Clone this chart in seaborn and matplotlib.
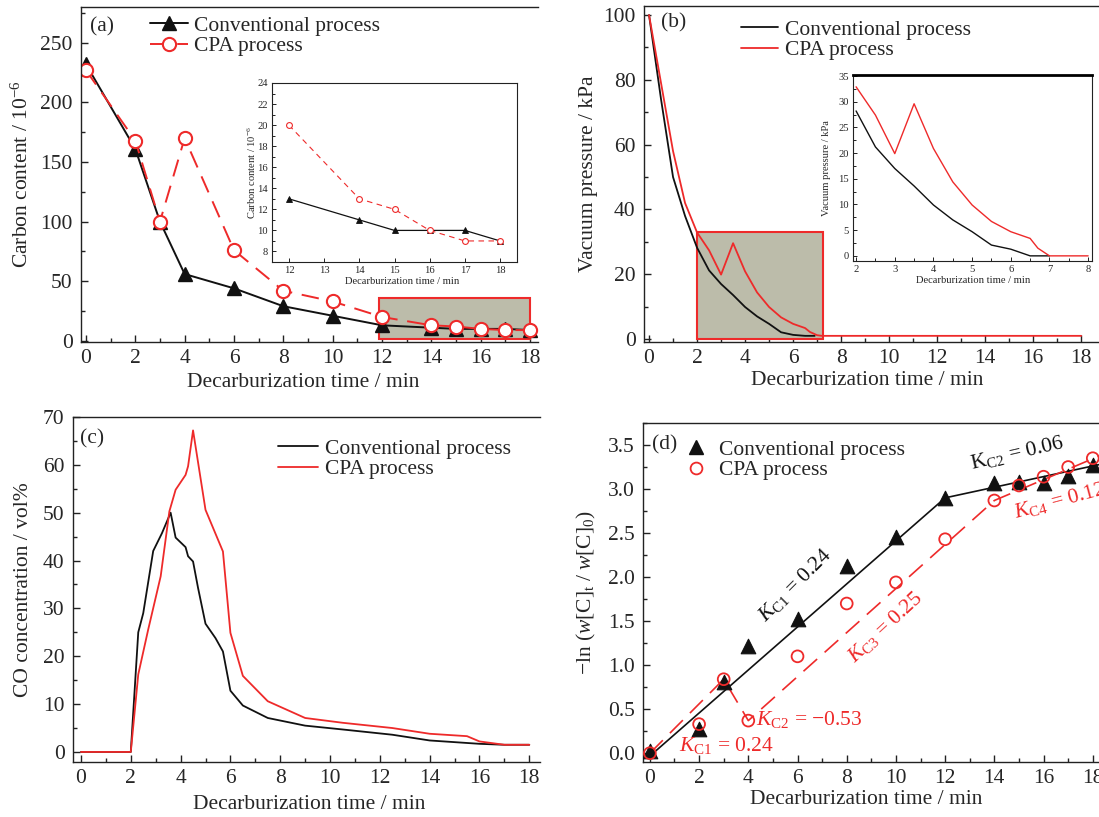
import matplotlib
matplotlib.use("Agg")
import matplotlib.pyplot as plt
import seaborn as sns
from matplotlib.patches import Rectangle
from matplotlib.lines import Line2D
from matplotlib.ticker import MultipleLocator

# ---------------- data ----------------
legend_labels = ["Conventional process", "CPA process"]

# (a) carbon content / 10^-6
time_a = [0, 2, 3, 4, 6, 8, 10, 12, 14, 15, 16, 17, 18]
carbon_conv = [232, 161, 100, 56, 44, 29, 21, 13, 11, 10, 10, 10, 9]
carbon_cpa = [227, 168, 100, 170, 76, 42, 33, 20, 13, 12, 10, 9, 9]
time_a_inset = [12, 14, 15, 16, 17, 18]
carbon_conv_inset = [13, 11, 10, 10, 10, 9]
carbon_cpa_inset = [20, 13, 12, 10, 9, 9]

# (b) vacuum pressure / kPa
time_b_conv = [0, 0.5, 1, 1.5, 2, 2.5, 3, 3.5, 4, 4.5, 5, 5.5, 6, 6.5, 6.9]
press_conv = [100, 74, 50, 38, 28.2, 21.2, 17.0, 13.6, 9.9, 7.0, 4.7, 2.1, 1.3, 1.0, 1.0]
time_b_cpa = [0, 0.5, 1, 1.5, 2, 2.5, 3, 3.5, 4, 4.5, 5, 5.5, 6, 6.5, 6.7, 7.0, 7.2, 18]
press_cpa = [100, 79, 58, 42, 32.9, 27.4, 19.9, 29.6, 20.9, 14.4, 9.9, 6.7, 4.7, 3.4, 2.2, 1.2, 1.0, 1.0]
time_b_conv_inset = [2, 2.5, 3, 3.5, 4, 4.5, 5, 5.5, 6, 6.5, 7]
press_conv_inset = [28.2, 21.2, 17.0, 13.6, 9.9, 7.0, 4.7, 2.1, 1.3, 0.0, 0.0]
time_b_cpa_inset = [2, 2.5, 3, 3.5, 4, 4.5, 5, 5.5, 6, 6.5, 6.7, 7, 8]
press_cpa_inset = [32.9, 27.4, 19.9, 29.6, 20.9, 14.4, 9.9, 6.7, 4.7, 3.4, 1.5, 0.0, 0.0]

# (c) CO concentration / vol%
time_c_conv = [0, 2, 2.3, 2.5, 2.9, 3.25, 3.6, 3.8, 4.2, 4.3, 4.5, 4.7, 5.0, 5.4, 5.7,
               6.0, 6.5, 7.5, 9.0, 10.5, 12.5, 14.0, 16.0, 17.0, 18.0]
co_conv = [0, 0, 25, 29, 42, 45.7, 50, 44.8, 42.8, 40.9, 39.8, 34.3, 26.8, 23.8, 21.0,
           12.8, 9.7, 7.1, 5.5, 4.7, 3.6, 2.4, 1.7, 1.5, 1.5]
time_c_cpa = [0, 2, 2.3, 2.7, 3.2, 3.55, 3.8, 4.2, 4.3, 4.5, 5.0, 5.7, 6.0, 6.5, 7.5,
              9.0, 10.5, 12.5, 14.0, 15.5, 16.0, 17.0, 18.0]
co_cpa = [0, 0, 16.2, 25.6, 36.7, 50.3, 54.8, 57.9, 59.7, 67.2, 50.6, 41.9, 24.9, 15.9, 10.6,
          7.1, 6.1, 5.0, 3.8, 3.3, 2.2, 1.5, 1.5]

# (d) -ln(w[C]t / w[C]0)
time_d = [0, 2, 3, 4, 6, 8, 10, 12, 14, 15, 16, 17, 18]
lnc_conv = [0.03, 0.28, 0.81, 1.22, 1.52, 2.13, 2.46, 2.90, 3.07, 3.08, 3.07, 3.15, 3.27]
lnc_cpa = [0.0, 0.33, 0.84, 0.37, 1.10, 1.70, 1.94, 2.43, 2.87, 3.04, 3.14, 3.25, 3.35]
fit_conv_t = [0.05, 12, 18.3]
fit_conv = [-0.02, 2.90, 3.28]
fit_cpa_t = [0, 3, 4, 14, 18.3]
fit_cpa = [0.0, 0.84, 0.37, 2.87, 3.38]

# ---------------- style ----------------
sns.set_theme(style="ticks")
plt.rcParams.update({
    "font.family": ["Liberation Serif", "DejaVu Serif"],
    "mathtext.fontset": "custom",
    "mathtext.rm": "Liberation Serif",
    "mathtext.it": "Liberation Serif:italic",
    "mathtext.bf": "Liberation Serif:bold",
    "axes.unicode_minus": True,
})
RED = "#ee2a2a"
BLACK = "#111111"
GRAY = "#bcbcaa"
FS = 15.5
FS_IN = 7.6

W, H = 1099, 817
fig = plt.figure(figsize=(W / 100, H / 100), dpi=100)


def rect(l, t, r, b):
    return [l / W, 1 - b / H, (r - l) / W, (b - t) / H]


def style(ax, fs, xmaj, xmin, ymaj, ymin, big=True):
    ax.xaxis.set_major_locator(MultipleLocator(xmaj))
    ax.xaxis.set_minor_locator(MultipleLocator(xmin))
    ax.yaxis.set_major_locator(MultipleLocator(ymaj))
    ax.yaxis.set_minor_locator(MultipleLocator(ymin))
    ax.tick_params(which="both", direction="in", top=False, right=False,
                   labelsize=fs, width=1.0 if big else 0.7, color="#222222")
    ax.tick_params(which="major", length=5 if big else 3)
    ax.tick_params(which="minor", length=3 if big else 2)
    ax.tick_params(axis="x", pad=5 if big else 3)
    ax.tick_params(axis="y", pad=6 if big else 3)
    for s in ax.spines.values():
        s.set_linewidth(1.0 if big else 0.8)
        s.set_color("#222222")


def line(ax, x, y, color, lw, dashes=None, **kw):
    sns.lineplot(x=x, y=y, ax=ax, color=color, linewidth=lw, estimator=None,
                 sort=False, legend=False, **kw)
    ln = ax.lines[-1]
    if dashes is not None:
        ln.set_dashes(dashes)
    return ln


ax_a = fig.add_axes(rect(81, 7, 538, 342))
ax_b = fig.add_axes(rect(644, 6, 1110, 342))
ax_c = fig.add_axes(rect(73, 417, 540, 762))
ax_d = fig.add_axes(rect(643, 423, 1110, 762))

# ---------------- (a) ----------------
ax_a.add_patch(Rectangle((11.88, 1.7), 18.0 - 11.88, 36 - 1.7, facecolor=GRAY,
                         edgecolor=RED, linewidth=1.5, zorder=1))
la1 = line(ax_a, time_a, carbon_conv, BLACK, 1.4, marker="^", markersize=10,
           markerfacecolor=BLACK, markeredgecolor=BLACK, markeredgewidth=1)
la2 = line(ax_a, time_a, carbon_cpa, RED, 1.4, dashes=(9, 5), marker="o", markersize=9.5,
           markerfacecolor="white", markeredgecolor=RED, markeredgewidth=1.5)
ax_a.set_xlim(-0.2, 18.32)
ax_a.set_ylim(-1, 280)
style(ax_a, FS, 2, 1, 50, 25)
ax_a.spines["right"].set_visible(False)
ax_a.set_xlabel("Decarburization time / min", fontsize=FS)
ax_a.set_ylabel("Carbon content / 10$^{-6}$", fontsize=FS)
ax_a.xaxis.set_label_coords(0.486, -0.092)
ax_a.yaxis.set_label_coords(-0.105, 0.5)
ax_a.legend([la1, la2], legend_labels, loc="center left",
            bbox_to_anchor=(150 / W, 1 - 36 / H), bbox_transform=fig.transFigure,
            frameon=False, fontsize=FS, borderpad=0, borderaxespad=0,
            handlelength=1.77, handletextpad=0.28, labelspacing=0.0)

ins_a = fig.add_axes(rect(272, 83, 517, 262))
line(ins_a, time_a_inset, carbon_conv_inset, BLACK, 0.9, marker="^", markersize=5,
     markerfacecolor=BLACK, markeredgecolor=BLACK, markeredgewidth=0.6)
line(ins_a, time_a_inset, carbon_cpa_inset, RED, 0.8, dashes=(5, 4), marker="o", markersize=4.2,
     markerfacecolor="white", markeredgecolor=RED, markeredgewidth=0.8)
ins_a.set_xlim(11.52, 18.48)
ins_a.set_ylim(7, 24)
style(ins_a, FS_IN, 1, 1, 2, 1, big=False)
ins_a.set_xticks([12, 13, 14, 15, 16, 17, 18])
ins_a.set_xlabel("Decarburization time / min", fontsize=FS_IN)
ins_a.set_ylabel("Carbon content / 10$^{-6}$", fontsize=FS_IN)
ins_a.xaxis.set_label_coords(0.53, -0.084)
ins_a.yaxis.set_label_coords(-0.057, 0.5)

# ---------------- (b) ----------------
ax_b.add_patch(Rectangle((2.0, 0), 7.25 - 2.0, 33, facecolor=GRAY,
                         edgecolor=RED, linewidth=1.5, zorder=1))
lb1 = line(ax_b, time_b_conv, press_conv, BLACK, 1.3)
lb2 = line(ax_b, time_b_cpa, press_cpa, RED, 1.3)
ax_b.set_xlim(-0.21, 19.2)
ax_b.set_ylim(-0.9, 102.8)
style(ax_b, FS, 2, 1, 20, 10)
ax_b.set_xlabel("Decarburization time / min", fontsize=FS)
ax_b.set_ylabel("Vacuum pressure / kPa", fontsize=FS)
ax_b.xaxis.set_label_coords(0.479, -0.086)
ax_b.yaxis.set_label_coords(-0.099, 0.5)
ax_b.legend([lb1, lb2], legend_labels, loc="center left",
            bbox_to_anchor=(741 / W, 1 - 40 / H), bbox_transform=fig.transFigure,
            frameon=False, fontsize=FS, borderpad=0, borderaxespad=0,
            handlelength=1.72, handletextpad=0.33, labelspacing=0.0)

ins_b = fig.add_axes(rect(853, 75, 1092, 261))
line(ins_b, time_b_conv_inset, press_conv_inset, BLACK, 1.0)
line(ins_b, time_b_cpa_inset, press_cpa_inset, RED, 1.0)
ins_b.set_xlim(1.92, 8.1)
ins_b.set_ylim(-1, 35.2)
style(ins_b, FS_IN, 1, 0.5, 5, 2.5, big=False)
ins_b.spines["top"].set_linewidth(2.0)
ins_b.spines["top"].set_color("black")
ins_b.set_xlabel("Decarburization time / min", fontsize=FS_IN)
ins_b.set_ylabel("Vacuum pressure / kPa", fontsize=FS_IN)
ins_b.xaxis.set_label_coords(0.502, -0.08)
ins_b.yaxis.set_label_coords(-0.092, 0.5)

# ---------------- (c) ----------------
lc1 = line(ax_c, time_c_conv, co_conv, BLACK, 1.3)
lc2 = line(ax_c, time_c_cpa, co_cpa, RED, 1.3)
ax_c.set_xlim(-0.32, 18.43)
ax_c.set_ylim(-2.1, 70)
style(ax_c, FS, 2, 1, 10, 5)
ax_c.spines["right"].set_visible(False)
ax_c.set_xlabel("Decarburization time / min", fontsize=FS)
ax_c.set_ylabel("CO concentration / vol%", fontsize=FS)
ax_c.xaxis.set_label_coords(0.505, -0.096)
ax_c.yaxis.set_label_coords(-0.086, 0.5)
ax_c.legend([lc1, lc2], legend_labels, loc="center left",
            bbox_to_anchor=(278 / W, 1 - 459 / H), bbox_transform=fig.transFigure,
            frameon=False, fontsize=FS, borderpad=0, borderaxespad=0,
            handlelength=1.86, handletextpad=0.33, labelspacing=0.0)

# ---------------- (d) ----------------
line(ax_d, fit_conv_t, fit_conv, BLACK, 1.2)
line(ax_d, fit_cpa_t, fit_cpa, RED, 1.2, dashes=(11, 6))
sns.scatterplot(x=time_d, y=lnc_conv, ax=ax_d, marker="^", s=10.5 ** 2, color=BLACK,
                edgecolor=BLACK, linewidth=0.8, legend=False, zorder=3)
sns.scatterplot(x=time_d, y=lnc_cpa, ax=ax_d, marker="o", s=8.5 ** 2, facecolor="none",
                edgecolor=RED, linewidth=1.3, legend=False, zorder=4)
ax_d.set_xlim(-0.28, 18.7)
ax_d.set_ylim(-0.1, 3.75)
style(ax_d, FS, 2, 1, 0.5, 0.25)
ax_d.set_xlabel("Decarburization time / min", fontsize=FS)
ax_d.set_ylabel(r"$-\ln\,(w[\mathrm{C}]_\mathrm{t}\ /\ w[\mathrm{C}]_0)$", fontsize=FS)
ax_d.xaxis.set_label_coords(0.4775, -0.083)
ax_d.yaxis.set_label_coords(-0.096, 0.5)
hd1 = Line2D([], [], linestyle="none", marker="^", markersize=10.5, color=BLACK)
hd2 = Line2D([], [], linestyle="none", marker="o", markersize=8.5, markerfacecolor="none",
             markeredgecolor=RED, markeredgewidth=1.3)
ax_d.legend([hd1, hd2], legend_labels, loc="center left",
            bbox_to_anchor=(685 / W, 1 - 460 / H), bbox_transform=fig.transFigure,
            frameon=False, fontsize=FS, borderpad=0, borderaxespad=0,
            handlelength=1.0, handletextpad=0.56, labelspacing=0.0)

ann = dict(fontsize=FS, rotation_mode="anchor")
ax_d.text(5.91, 1.91, r"$K_{\rm C1}$ = 0.24", color=BLACK, rotation=45,
          ha="center", va="center", **ann)
ax_d.text(14.92, 3.41, r"K$_{\rm C2}$ = 0.06", color=BLACK, rotation=13,
          ha="center", va="center", **ann)
ax_d.text(9.55, 1.43, r"$K_{\rm C3}$ = 0.25", color=RED, rotation=43,
          ha="center", va="center", **ann)
ax_d.text(14.86, 2.67, r"$K_{\rm C4}$ = 0.12", color=RED, rotation=15,
          ha="left", va="baseline", **ann)
ax_d.text(4.31, 0.386, r"$K_{\rm C2}$ = −0.53", color=RED, ha="left", va="center", **ann)
ax_d.text(1.2, 0.09, r"$K_{\rm C1}$ = 0.24", color=RED, ha="left", va="center", **ann)

# panel letters
for txt, (px, py) in zip(["(a)", "(b)", "(c)", "(d)"],
                         [(102, 27), (674, 23), (92, 439), (665, 445)]):
    fig.text(px / W, 1 - py / H, txt, fontsize=FS, ha="center", va="center")

fig.savefig("out.png", dpi=100)
